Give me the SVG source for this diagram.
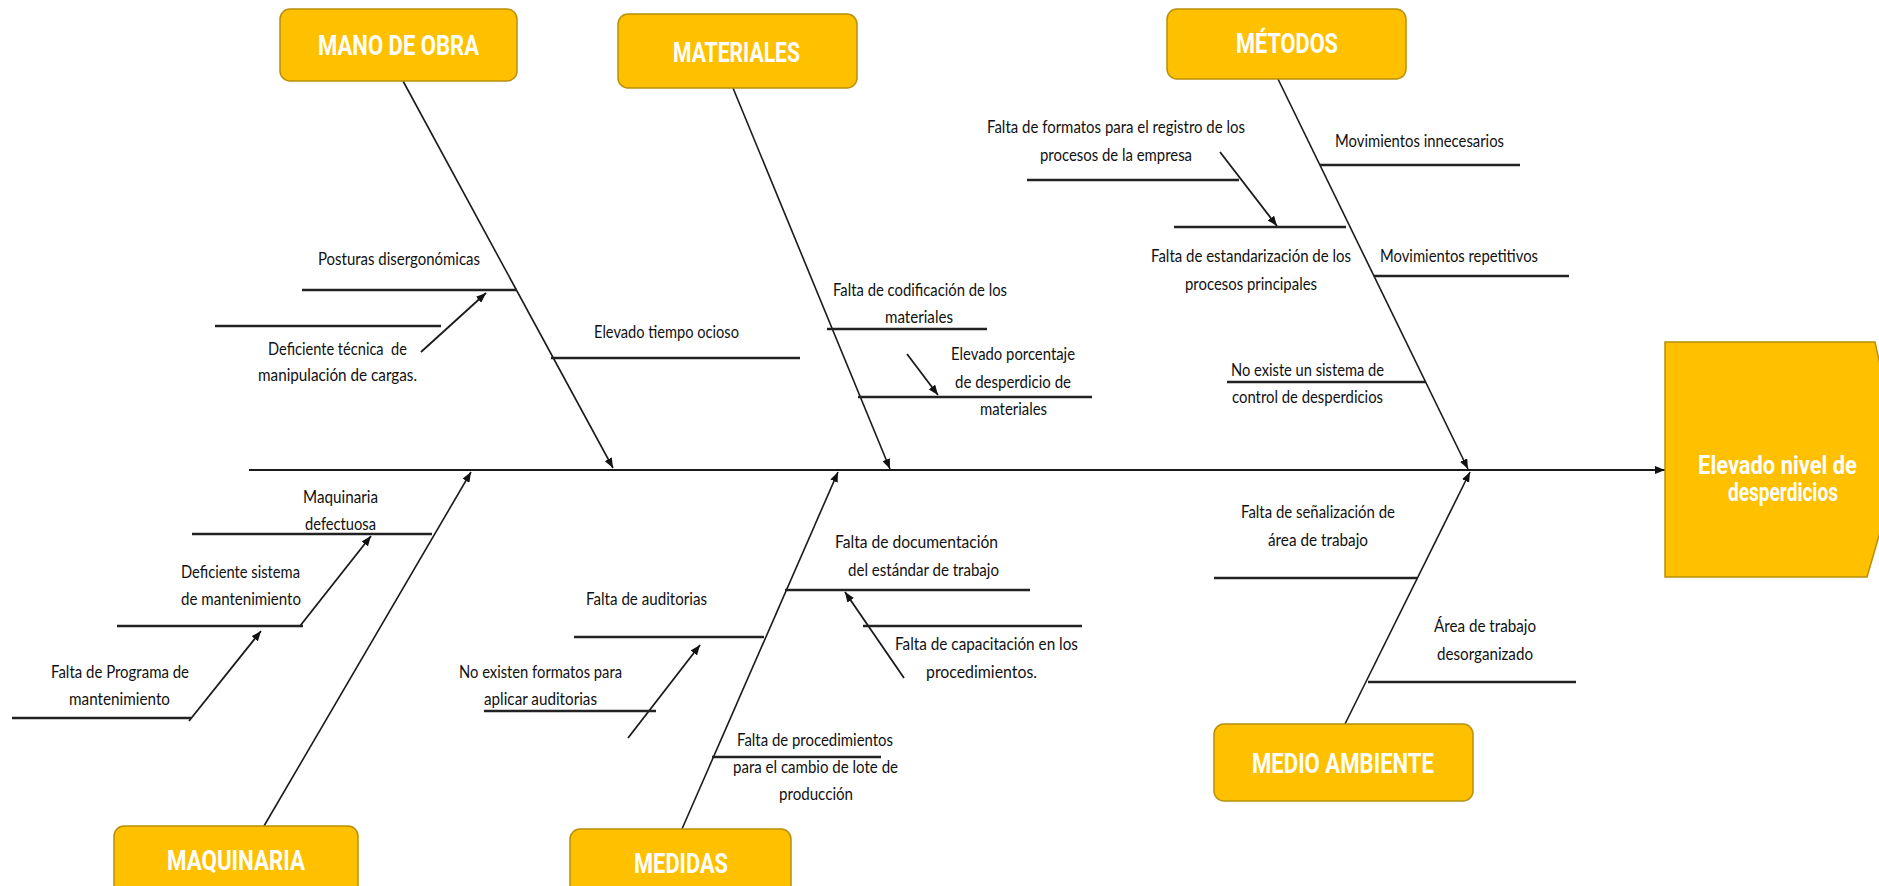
<svg xmlns="http://www.w3.org/2000/svg" width="1879" height="886" viewBox="0 0 1879 886">
  <style>
    .box { fill: #FFC000; stroke: #B8900A; stroke-width: 1.5; }
    .head { font-family: "Roboto", "Liberation Sans", sans-serif; font-weight: bold; fill: #FFFFFF; font-size: 28px; text-anchor: middle; }
    .effect { font-family: "Roboto", "Liberation Sans", sans-serif; font-weight: bold; fill: #FFFFFF; font-size: 26px; text-anchor: middle; }
    .lbl { font-family: "Lato", "Liberation Sans", sans-serif; fill: #111111; font-size: 17px; text-anchor: middle; }
    .spine { stroke: #1a1a1a; stroke-width: 2.2; fill: none; }
    .bone { stroke: #1a1a1a; stroke-width: 1.6; fill: none; }
    .sub { stroke: #222222; stroke-width: 2.6; fill: none; }
    .ptr { stroke: #1a1a1a; stroke-width: 1.8; fill: none; }
  </style>
  <defs>
    <marker id="arrow" viewBox="0 0 10 8" refX="10" refY="4" markerWidth="10" markerHeight="8" markerUnits="userSpaceOnUse" orient="auto">
      <path d="M0,0 L10,4 L0,8 z" fill="#111111"/>
    </marker>
  </defs>
  <rect width="1879" height="886" fill="#FFFFFF"/>

  <!-- connectors: spine, main bones, cause lines and pointers -->
  <g id="connectors">
    <line class="spine" x1="249" y1="470" x2="1665" y2="470" marker-end="url(#arrow)"/>

    <line class="bone" x1="403" y1="81" x2="613" y2="468" marker-end="url(#arrow)"/>
    <line class="bone" x1="733" y1="88" x2="890" y2="469" marker-end="url(#arrow)"/>
    <line class="bone" x1="1278" y1="79" x2="1468" y2="469" marker-end="url(#arrow)"/>
    <line class="bone" x1="264" y1="826" x2="471" y2="472" marker-end="url(#arrow)"/>
    <line class="bone" x1="682" y1="829" x2="838" y2="472" marker-end="url(#arrow)"/>
    <line class="bone" x1="1345" y1="724" x2="1470" y2="472" marker-end="url(#arrow)"/>

    <!-- mano de obra -->
    <line class="sub" x1="302" y1="290" x2="517" y2="290"/>
    <line class="sub" x1="215" y1="326" x2="441" y2="326"/>
    <line class="ptr" x1="421" y1="352" x2="486" y2="293" marker-end="url(#arrow)"/>
    <line class="sub" x1="551" y1="358" x2="800" y2="358"/>

    <!-- materiales -->
    <line class="sub" x1="827" y1="329" x2="987" y2="329"/>
    <line class="sub" x1="858" y1="397" x2="1092" y2="397"/>
    <line class="ptr" x1="907" y1="354" x2="938" y2="395" marker-end="url(#arrow)"/>

    <!-- metodos -->
    <line class="sub" x1="1027" y1="180" x2="1239" y2="180"/>
    <line class="ptr" x1="1220" y1="152" x2="1277" y2="226" marker-end="url(#arrow)"/>
    <line class="sub" x1="1174" y1="227" x2="1346" y2="227"/>
    <line class="sub" x1="1320" y1="165" x2="1520" y2="165"/>
    <line class="sub" x1="1374" y1="276" x2="1569" y2="276"/>
    <line class="sub" x1="1227" y1="382" x2="1426" y2="382"/>

    <!-- maquinaria -->
    <line class="sub" x1="192" y1="534" x2="432" y2="534"/>
    <line class="ptr" x1="300" y1="626" x2="371" y2="536" marker-end="url(#arrow)"/>
    <line class="sub" x1="117" y1="626" x2="303" y2="626"/>
    <line class="ptr" x1="189" y1="721" x2="261" y2="631" marker-end="url(#arrow)"/>
    <line class="sub" x1="12" y1="718" x2="191" y2="718"/>

    <!-- medidas -->
    <line class="sub" x1="574" y1="637" x2="764" y2="637"/>
    <line class="ptr" x1="628" y1="738" x2="700" y2="645" marker-end="url(#arrow)"/>
    <line class="sub" x1="484" y1="711" x2="656" y2="711"/>
    <line class="sub" x1="785" y1="590" x2="1030" y2="590"/>
    <line class="ptr" x1="904" y1="678" x2="845" y2="592" marker-end="url(#arrow)"/>
    <line class="sub" x1="863" y1="626" x2="1082" y2="626"/>
    <line class="sub" x1="712" y1="757" x2="881" y2="757"/>

    <!-- medio ambiente -->
    <line class="sub" x1="1214" y1="578" x2="1417" y2="578"/>
    <line class="sub" x1="1368" y1="682" x2="1576" y2="682"/>
  </g>

  <!-- category boxes -->
  <g id="mano-de-obra">
    <rect class="box" x="280" y="9" width="237" height="72" rx="10"/>
    <text class="head" x="398.5" y="55" textLength="161" lengthAdjust="spacingAndGlyphs">MANO DE OBRA</text>
  </g>
  <g id="materiales">
    <rect class="box" x="618" y="14" width="239" height="74" rx="10"/>
    <text class="head" x="736.5" y="62" textLength="127" lengthAdjust="spacingAndGlyphs">MATERIALES</text>
  </g>
  <g id="metodos">
    <rect class="box" x="1167" y="9" width="239" height="70" rx="10"/>
    <text class="head" x="1287" y="53" textLength="102" lengthAdjust="spacingAndGlyphs">MÉTODOS</text>
  </g>
  <g id="maquinaria">
    <rect class="box" x="114" y="826" width="244" height="80" rx="10"/>
    <text class="head" x="236" y="870" textLength="138" lengthAdjust="spacingAndGlyphs">MAQUINARIA</text>
  </g>
  <g id="medidas">
    <rect class="box" x="570" y="829" width="221" height="80" rx="10"/>
    <text class="head" x="681" y="873" textLength="94" lengthAdjust="spacingAndGlyphs">MEDIDAS</text>
  </g>
  <g id="medio-ambiente">
    <rect class="box" x="1214" y="724" width="259" height="77" rx="10"/>
    <text class="head" x="1343" y="773" textLength="182" lengthAdjust="spacingAndGlyphs">MEDIO AMBIENTE</text>
  </g>

  <!-- effect (head of the fish, cut by the right edge) -->
  <g id="efecto">
    <polygon class="box" points="1665,342 1875,342 1901,460 1867,577 1665,577"/>
    <g transform="translate(1777.5,474) scale(0.7,1)">
      <text class="effect" x="0" y="0" textLength="227" lengthAdjust="spacingAndGlyphs">Elevado nivel de</text>
    </g>
    <g transform="translate(1783,501) scale(0.7,1)">
      <text class="effect" x="0" y="0" textLength="157" lengthAdjust="spacingAndGlyphs">desperdicios</text>
    </g>
  </g>

  <!-- cause labels -->
  <g id="causas-mano-de-obra">
    <text class="lbl" x="399" y="265" textLength="162" lengthAdjust="spacingAndGlyphs">Posturas disergonómicas</text>
    <text class="lbl" x="337.5" y="355" textLength="139" lengthAdjust="spacingAndGlyphs" xml:space="preserve">Deficiente técnica  de</text>
    <text class="lbl" x="337.5" y="381" textLength="159" lengthAdjust="spacingAndGlyphs">manipulación de cargas.</text>
    <text class="lbl" x="666.5" y="338" textLength="145" lengthAdjust="spacingAndGlyphs">Elevado tiempo ocioso</text>
  </g>
  <g id="causas-materiales">
    <text class="lbl" x="920" y="296" textLength="174" lengthAdjust="spacingAndGlyphs">Falta de codificación de los</text>
    <text class="lbl" x="919" y="323" textLength="68" lengthAdjust="spacingAndGlyphs">materiales</text>
    <text class="lbl" x="1013" y="360" textLength="124" lengthAdjust="spacingAndGlyphs">Elevado porcentaje</text>
    <text class="lbl" x="1013" y="388" textLength="116" lengthAdjust="spacingAndGlyphs">de desperdicio de</text>
    <text class="lbl" x="1013.5" y="415" textLength="67" lengthAdjust="spacingAndGlyphs">materiales</text>
  </g>
  <g id="causas-metodos">
    <text class="lbl" x="1116" y="133" textLength="258" lengthAdjust="spacingAndGlyphs">Falta de formatos para el registro de los</text>
    <text class="lbl" x="1116" y="161" textLength="152" lengthAdjust="spacingAndGlyphs">procesos de la empresa</text>
    <text class="lbl" x="1251" y="262" textLength="200" lengthAdjust="spacingAndGlyphs">Falta de estandarización de los</text>
    <text class="lbl" x="1251" y="290" textLength="132" lengthAdjust="spacingAndGlyphs">procesos principales</text>
    <text class="lbl" x="1419.5" y="147" textLength="169" lengthAdjust="spacingAndGlyphs">Movimientos innecesarios</text>
    <text class="lbl" x="1459" y="262" textLength="158" lengthAdjust="spacingAndGlyphs">Movimientos repetitivos</text>
    <text class="lbl" x="1307.5" y="376" textLength="153" lengthAdjust="spacingAndGlyphs">No existe un sistema de</text>
    <text class="lbl" x="1307.5" y="403" textLength="151" lengthAdjust="spacingAndGlyphs">control de desperdicios</text>
  </g>
  <g id="causas-maquinaria">
    <text class="lbl" x="340.5" y="503" textLength="75" lengthAdjust="spacingAndGlyphs">Maquinaria</text>
    <text class="lbl" x="340.5" y="530" textLength="71" lengthAdjust="spacingAndGlyphs">defectuosa</text>
    <text class="lbl" x="240.5" y="578" textLength="119" lengthAdjust="spacingAndGlyphs">Deficiente sistema</text>
    <text class="lbl" x="241" y="605" textLength="120" lengthAdjust="spacingAndGlyphs">de mantenimiento</text>
    <text class="lbl" x="120" y="678" textLength="138" lengthAdjust="spacingAndGlyphs">Falta de Programa de</text>
    <text class="lbl" x="119.5" y="705" textLength="101" lengthAdjust="spacingAndGlyphs">mantenimiento</text>
  </g>
  <g id="causas-medidas">
    <text class="lbl" x="646.5" y="605" textLength="121" lengthAdjust="spacingAndGlyphs">Falta de auditorias</text>
    <text class="lbl" x="540.5" y="678" textLength="163" lengthAdjust="spacingAndGlyphs">No existen formatos para</text>
    <text class="lbl" x="540.5" y="705" textLength="113" lengthAdjust="spacingAndGlyphs">aplicar auditorias</text>
    <text class="lbl" x="916.5" y="548" textLength="163" lengthAdjust="spacingAndGlyphs">Falta de documentación</text>
    <text class="lbl" x="923.5" y="576" textLength="151" lengthAdjust="spacingAndGlyphs">del estándar de trabajo</text>
    <text class="lbl" x="986.5" y="650" textLength="183" lengthAdjust="spacingAndGlyphs">Falta de capacitación en los</text>
    <text class="lbl" x="981.5" y="678" textLength="111" lengthAdjust="spacingAndGlyphs">procedimientos.</text>
    <text class="lbl" x="815" y="746" textLength="156" lengthAdjust="spacingAndGlyphs">Falta de procedimientos</text>
    <text class="lbl" x="815.5" y="773" textLength="165" lengthAdjust="spacingAndGlyphs">para el cambio de lote de</text>
    <text class="lbl" x="816" y="800" textLength="74" lengthAdjust="spacingAndGlyphs">producción</text>
  </g>
  <g id="causas-medio-ambiente">
    <text class="lbl" x="1318" y="518" textLength="154" lengthAdjust="spacingAndGlyphs">Falta de señalización de</text>
    <text class="lbl" x="1318" y="546" textLength="100" lengthAdjust="spacingAndGlyphs">área de trabajo</text>
    <text class="lbl" x="1485" y="632" textLength="102" lengthAdjust="spacingAndGlyphs">Área de trabajo</text>
    <text class="lbl" x="1485" y="660" textLength="96" lengthAdjust="spacingAndGlyphs">desorganizado</text>
  </g>
</svg>
